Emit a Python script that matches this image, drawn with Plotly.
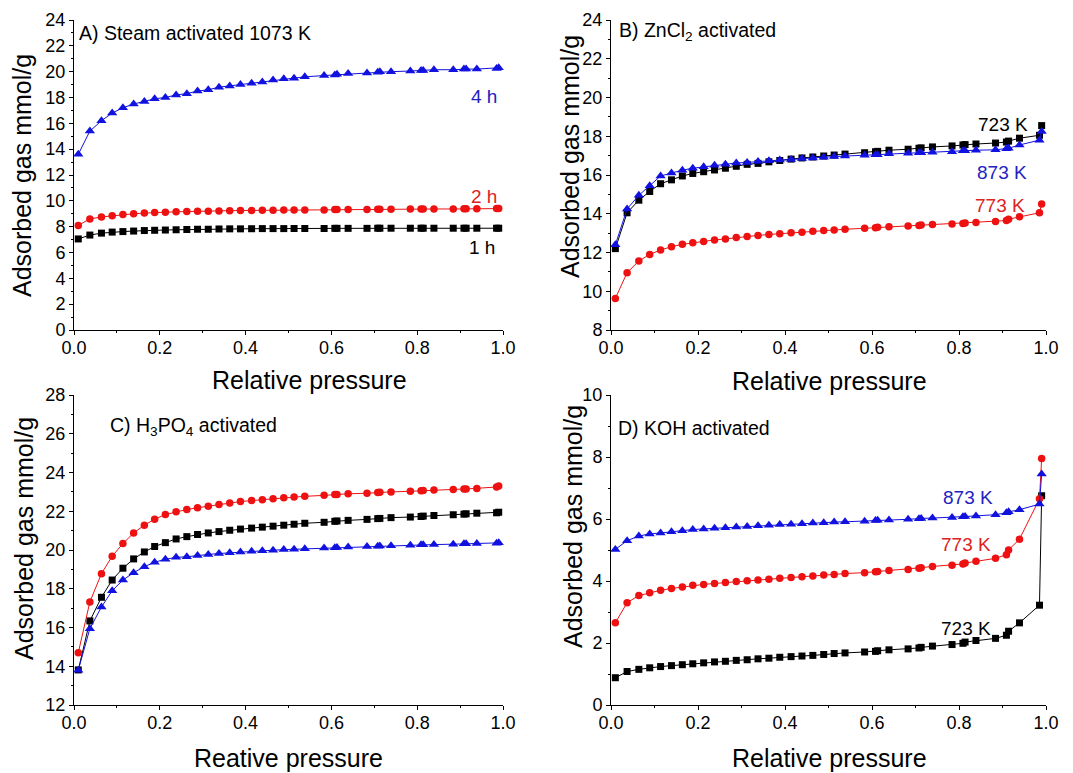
import plotly.graph_objects as go

# ---------------- data ----------------
P = [0.010, 0.037, 0.064, 0.089, 0.114, 0.139, 0.164, 0.188, 0.213, 0.238,
     0.263, 0.288, 0.313, 0.338, 0.363, 0.388, 0.414, 0.439, 0.464, 0.489,
     0.513, 0.538, 0.583, 0.608, 0.613, 0.639, 0.683, 0.708, 0.713, 0.739,
     0.784, 0.809, 0.814, 0.839, 0.884, 0.909, 0.914, 0.939, 0.985, 0.990]

A_1h = [7.05, 7.35, 7.5, 7.58, 7.62, 7.66, 7.7, 7.72, 7.74, 7.76,
        7.78, 7.8, 7.8, 7.82, 7.83, 7.83, 7.84, 7.85, 7.85, 7.85,
        7.86, 7.86, 7.86, 7.87, 7.87, 7.87, 7.87, 7.88, 7.88, 7.88,
        7.88, 7.88, 7.88, 7.88, 7.88, 7.88, 7.88, 7.88, 7.88, 7.88]
A_2h = [8.1, 8.6, 8.75, 8.85, 8.95, 9.0, 9.05, 9.1, 9.12, 9.15,
        9.17, 9.2, 9.2, 9.22, 9.24, 9.25, 9.26, 9.27, 9.28, 9.29,
        9.3, 9.3, 9.3, 9.32, 9.32, 9.33, 9.33, 9.35, 9.35, 9.35,
        9.36, 9.36, 9.36, 9.37, 9.37, 9.38, 9.38, 9.38, 9.4, 9.4]
A_4h = [13.6, 15.4, 16.2, 16.8, 17.2, 17.5, 17.7, 17.9, 18.0, 18.2,
        18.3, 18.5, 18.6, 18.8, 18.9, 19.0, 19.1, 19.2, 19.35, 19.45,
        19.5, 19.6, 19.7, 19.75, 19.8, 19.85, 19.9, 19.95, 20.0, 20.0,
        20.05, 20.1, 20.1, 20.15, 20.15, 20.2, 20.2, 20.2, 20.25, 20.3]

B_723 = [12.2, 14.05, 14.7, 15.15, 15.55, 15.75, 15.95, 16.08, 16.17, 16.26,
         16.35, 16.45, 16.55, 16.6, 16.68, 16.75, 16.82, 16.88, 16.93, 16.98,
         17.03, 17.08, 17.15, 17.2, 17.22, 17.28, 17.33, 17.38, 17.4, 17.45,
         17.5, 17.55, 17.57, 17.6, 17.65, 17.7, 17.75, 17.9, 18.05, 18.55]
B_773 = [9.63, 10.96, 11.56, 11.9, 12.13, 12.3, 12.42, 12.5, 12.57, 12.65,
         12.7, 12.77, 12.83, 12.88, 12.93, 12.97, 13.02, 13.05, 13.1, 13.13,
         13.16, 13.2, 13.25, 13.28, 13.3, 13.33, 13.37, 13.4, 13.42, 13.45,
         13.47, 13.5, 13.52, 13.55, 13.6, 13.65, 13.72, 13.85, 14.05, 14.5]
B_873 = [12.4, 14.25, 14.95, 15.45, 15.95, 16.1, 16.25, 16.35, 16.42, 16.5,
         16.55, 16.62, 16.65, 16.7, 16.73, 16.77, 16.8, 16.85, 16.88, 16.92,
         16.95, 16.98, 17.02, 17.05, 17.05, 17.1, 17.12, 17.15, 17.15, 17.18,
         17.2, 17.25, 17.25, 17.28, 17.3, 17.35, 17.38, 17.55, 17.8, 18.25]

C_723 = [13.81, 16.34, 17.56, 18.45, 19.06, 19.54, 19.9, 20.18, 20.38, 20.57,
         20.69, 20.8, 20.88, 20.95, 21.02, 21.08, 21.13, 21.18, 21.23, 21.28,
         21.33, 21.38, 21.43, 21.48, 21.5, 21.53, 21.58, 21.62, 21.63, 21.67,
         21.7, 21.73, 21.75, 21.78, 21.82, 21.85, 21.87, 21.9, 21.92, 21.95]
C_773 = [14.7, 17.32, 18.78, 19.68, 20.33, 20.88, 21.28, 21.59, 21.83, 21.97,
         22.09, 22.18, 22.26, 22.35, 22.42, 22.5, 22.55, 22.6, 22.65, 22.7,
         22.73, 22.77, 22.82, 22.86, 22.87, 22.9, 22.93, 22.97, 22.98, 23.0,
         23.03, 23.06, 23.07, 23.1, 23.12, 23.15, 23.15, 23.18, 23.25, 23.3]
C_873 = [13.8, 15.94, 17.06, 17.9, 18.45, 18.83, 19.14, 19.37, 19.52, 19.62,
         19.65, 19.72, 19.77, 19.82, 19.86, 19.9, 19.93, 19.96, 19.99, 20.02,
         20.04, 20.06, 20.1, 20.12, 20.13, 20.15, 20.18, 20.2, 20.21, 20.22,
         20.25, 20.27, 20.27, 20.28, 20.3, 20.32, 20.32, 20.33, 20.35, 20.37]

D_723 = [0.88, 1.08, 1.15, 1.2, 1.24, 1.27, 1.3, 1.33, 1.36, 1.39,
         1.41, 1.44, 1.46, 1.49, 1.51, 1.54, 1.56, 1.58, 1.6, 1.63,
         1.66, 1.68, 1.71, 1.73, 1.75, 1.78, 1.81, 1.84, 1.86, 1.9,
         1.95, 1.99, 2.03, 2.08, 2.15, 2.25, 2.38, 2.65, 3.22, 6.75]
D_773 = [2.65, 3.3, 3.53, 3.62, 3.7, 3.76, 3.81, 3.86, 3.89, 3.92,
         3.95, 3.98, 4.01, 4.03, 4.06, 4.09, 4.11, 4.14, 4.16, 4.19,
         4.21, 4.24, 4.27, 4.3, 4.31, 4.34, 4.37, 4.41, 4.43, 4.47,
         4.51, 4.55, 4.58, 4.64, 4.73, 4.85, 5.0, 5.35, 6.65, 7.95]
D_873 = [5.02, 5.3, 5.45, 5.52, 5.55, 5.59, 5.62, 5.66, 5.68, 5.7,
         5.72, 5.74, 5.76, 5.78, 5.8, 5.82, 5.83, 5.85, 5.87, 5.88,
         5.9, 5.91, 5.93, 5.95, 5.96, 5.97, 5.99, 6.01, 6.02, 6.03,
         6.05, 6.07, 6.08, 6.1, 6.14, 6.2, 6.23, 6.3, 6.48, 7.45]

X_TICKS = [0.0, 0.2, 0.4, 0.6, 0.8, 1.0]
Y_TITLE = "Adsorbed gas mmol/g"
X_TITLES = ["Relative pressure", "Relative pressure", "Reative pressure", "Relative pressure"]
PANEL_TITLES = ["A) Steam activated 1073 K", "B) ZnCl<sub>2</sub> activated",
                "C) H<sub>3</sub>PO<sub>4</sub> activated", "D) KOH activated"]

# ---------------- style ----------------
OFF = 8                      # page body margin of the html page
W, H = 1073 - OFF, 773 - OFF
FONT = "Liberation Sans, Arial, sans-serif"
BLACK = "#000000"
RED = "#ee1111"
BLUE = "#1111e0"
RED_T = "#dd2222"
BLUE_T = "#2222c0"

SYM = {"k": ("square", BLACK, 7), "r": ("circle", RED, 7.5), "b": ("triangle-up", BLUE, 9)}

def fx(px):
    return (px - OFF) / W

def fy(py):
    return 1 - (py - OFF) / H

fig = go.Figure()

def add(series, kind, ax):
    sym, col, sz = SYM[kind]
    fig.add_trace(go.Scatter(
        x=P, y=series, mode="lines+markers",
        line=dict(color=col, width=1),
        marker=dict(symbol=sym, color=col, size=sz, line=dict(width=0)),
        xaxis="x" + ax, yaxis="y" + ax, showlegend=False, cliponaxis=False))

add(A_1h, "k", ""); add(A_2h, "r", ""); add(A_4h, "b", "")
add(B_723, "k", "2"); add(B_773, "r", "2"); add(B_873, "b", "2")
add(C_723, "k", "3"); add(C_773, "r", "3"); add(C_873, "b", "3")
add(D_723, "k", "4"); add(D_773, "r", "4"); add(D_873, "b", "4")

# pixel boxes of plot areas in the reference: (x0, x1, ytop, ybottom)
boxes = {
    "": (74, 503, 20, 330),
    "2": (611, 1046, 20, 330),
    "3": (74, 503, 395, 705),
    "4": (611, 1046, 395, 705),
}
yranges = {"": (0, 24), "2": (8, 24), "3": (12, 28), "4": (0, 10)}

tickfont = dict(family=FONT, size=18, color="black")
for k, (x0, x1, yt, yb) in boxes.items():
    xa = dict(domain=[fx(x0), fx(x1)], range=[0, 1.0], tickvals=X_TICKS,
              tickformat=".1f", ticks="outside", ticklen=4, tickwidth=1,
              tickcolor="black", showline=True, linecolor="black", linewidth=1,
              showgrid=False, zeroline=False, tickfont=tickfont, automargin=False,
              ticklabelstandoff=-3,
              minor=dict(dtick=0.1, ticks="outside", ticklen=2, tickcolor="black", showgrid=False),
              anchor="y" + k)
    lo, hi = yranges[k]
    ya = dict(domain=[fy(yb), fy(yt)], range=[lo, hi], dtick=2,
              ticks="outside", ticklen=4, tickwidth=1, tickcolor="black",
              showline=True, linecolor="black", linewidth=1, showgrid=False,
              zeroline=False, tickfont=tickfont, automargin=False,
              minor=dict(dtick=1, ticks="outside", ticklen=2, tickcolor="black", showgrid=False),
              anchor="x" + k)
    fig.update_layout(**{"xaxis" + k: xa, "yaxis" + k: ya})

ann = []
def txt(text, x, y, ref, color, xanchor, size=19):
    ann.append(dict(text=text, x=x, y=y, xref="x" + ref, yref="y" + ref,
                    showarrow=False, xanchor=xanchor, yanchor="middle",
                    font=dict(family=FONT, size=size, color=color)))

txt(PANEL_TITLES[0], 0.007, 23.0, "", BLACK, "left", 19.5)
txt("4 h", 0.99, 18.04, "", BLUE_T, "right")
txt("2 h", 0.99, 10.3, "", RED_T, "right")
txt("1 h", 0.987, 6.35, "", BLACK, "right")

txt(PANEL_TITLES[1], 0.014, 23.43, "2", BLACK, "left", 19.5)
txt("723 K", 0.963, 18.63, "2", BLACK, "right")
txt("873 K", 0.962, 16.15, "2", BLUE_T, "right")
txt("773 K", 0.957, 14.45, "2", RED_T, "right")

txt(PANEL_TITLES[2], 0.079, 26.35, "3", BLACK, "left", 19.5)
txt("773 K", 1.028, 24.18, "3", RED_T, "right")
txt("723 K", 1.035, 22.43, "3", BLACK, "right")
txt("873 K", 1.028, 19.12, "3", BLUE_T, "right")

txt(PANEL_TITLES[3], 0.011, 8.94, "4", BLACK, "left", 19.5)
txt("873 K", 0.883, 6.68, "4", BLUE_T, "right")
txt("773 K", 0.878, 5.19, "4", RED_T, "right")
txt("723 K", 0.879, 2.48, "4", BLACK, "right")

# axis titles (paper coordinates from reference pixel positions)
def ptxt(text, px, py, angle=0):
    ann.append(dict(text=text, x=fx(px), y=fy(py), xref="paper", yref="paper",
                    showarrow=False, xanchor="center", yanchor="middle", textangle=angle,
                    font=dict(family=FONT, size=25, color="black")))

ptxt(Y_TITLE, 22, 176, -90)
ptxt(Y_TITLE, 570, 157, -90)
ptxt(Y_TITLE, 24, 539, -90)
ptxt(Y_TITLE, 573, 527, -90)
ptxt(X_TITLES[0], 309, 380)
ptxt(X_TITLES[1], 829, 381)
ptxt(X_TITLES[2], 288, 758)
ptxt(X_TITLES[3], 829, 758)

fig.update_layout(width=W, height=H, margin=dict(l=0, r=0, t=0, b=0, autoexpand=False),
                  paper_bgcolor="white", plot_bgcolor="white",
                  annotations=ann, font=dict(family=FONT))

fig.write_html("out.html")
